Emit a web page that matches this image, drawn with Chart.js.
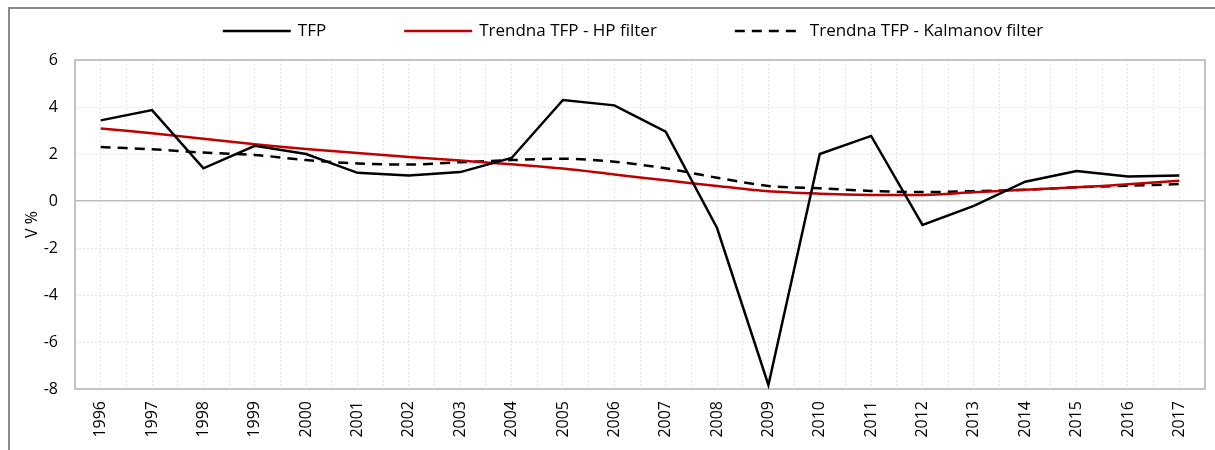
<!DOCTYPE html>
<html>
<head>
<meta charset="utf-8">
<script src="https://cdn.jsdelivr.net/npm/chart.js@4.4.0/dist/chart.umd.min.js"></script>
<style>
    html, body { margin: 0; padding: 0; background: #fff; overflow: hidden; }
    #frame { position: absolute; left: 8px; top: 7px; width: 1400px; height: 600px; border: 2px solid #8a8a8a; }
    #wrap { position: absolute; left: 0; top: 0; width: 1215px; height: 450px; }
</style>
</head>
<body>
<div id="frame"></div>
<div id="wrap"><canvas id="tfpChart" width="1215" height="450"></canvas></div>
<script>
// =========================
// DATA
// =========================

const years = ["1996", "1997", "1998", "1999", "2000", "2001", "2002", "2003", "2004", "2005", "2006",
    "2007", "2008", "2009", "2010", "2011", "2012", "2013", "2014", "2015", "2016", "2017"];

const tfp = [3.43, 3.87, 1.39, 2.35, 2.0, 1.2, 1.09, 1.23, 1.83, 4.3, 4.07,
    2.95, -1.15, -7.83, 2.0, 2.77, -1.02, -0.21, 0.82, 1.28, 1.04, 1.08];

const hpTrend = [3.09, 2.88, 2.65, 2.41, 2.21, 2.04, 1.87, 1.72, 1.56, 1.38, 1.13,
    0.88, 0.64, 0.41, 0.31, 0.26, 0.26, 0.37, 0.48, 0.58, 0.71, 0.86];

const kalmanTrend = [2.3, 2.2, 2.06, 1.96, 1.74, 1.6, 1.55, 1.65, 1.74, 1.8, 1.67,
    1.39, 0.99, 0.64, 0.54, 0.43, 0.38, 0.42, 0.48, 0.58, 0.65, 0.72];

const seriesNames = ["TFP", "Trendna TFP - HP filter", "Trendna TFP - Kalmanov filter"];

const yTicks = { min: -8, max: 6, step: 2 };

// =========================
// STYLE
// =========================

const FONT = "'Open Sans', sans-serif";
const GRID = "#e4e4e4";

// plot frame (Excel style box round the plot area)
const plotFrame = {
    id: "plotFrame",
    beforeDatasetsDraw(chart) {
        const { ctx, chartArea: a } = chart;
        ctx.save();
        ctx.strokeStyle = "#c4c4c4";
        ctx.lineWidth = 2;
        ctx.strokeRect(a.left, a.top, a.right - a.left, a.bottom - a.top);
        ctx.restore();
    }
};

// legend drawn on top, line samples like Excel
const lineLegend = {
    id: "lineLegend",
    afterDraw(chart) {
        const { ctx, chartArea: a } = chart;
        const sample = 68;
        const gap = 7;
        const spacing = 78;
        const y = 31;

        ctx.save();
        ctx.font = "17px " + FONT;
        ctx.textBaseline = "middle";

        const widths = chart.data.datasets.map(ds => sample + gap + ctx.measureText(ds.label).width);
        const total = widths.reduce((s, w) => s + w, 0) + spacing * (widths.length - 1);
        let x = (a.left + a.right) / 2 - total / 2 - 7;

        chart.data.datasets.forEach((ds, i) => {
            ctx.strokeStyle = ds.borderColor;
            ctx.lineWidth = ds.borderWidth;
            ctx.setLineDash(ds.borderDash || []);
            ctx.beginPath();
            ctx.moveTo(x, y);
            ctx.lineTo(x + sample, y);
            ctx.stroke();
            ctx.setLineDash([]);
            ctx.fillStyle = "#000";
            ctx.fillText(ds.label, x + sample + gap, y);
            x += widths[i] + spacing;
        });
        ctx.restore();
    }
};

// =========================
// CHART
// =========================

const tfpChart = new Chart(
    document.getElementById("tfpChart"),
    {
        type: "line",
        data: {
            labels: years,
            datasets: [
                {
                    label: seriesNames[0],
                    data: tfp,
                    borderColor: "#000000",
                    borderWidth: 2.5,
                    pointRadius: 0,
                    tension: 0
                },
                {
                    label: seriesNames[1],
                    data: hpTrend,
                    borderColor: "#c00000",
                    borderWidth: 2.5,
                    pointRadius: 0,
                    tension: 0.3
                },
                {
                    label: seriesNames[2],
                    data: kalmanTrend,
                    borderColor: "#000000",
                    borderWidth: 2.5,
                    borderDash: [10, 7],
                    pointRadius: 0,
                    tension: 0.3
                }
            ]
        },
        options: {
            responsive: false,
            animation: false,
            layout: { padding: { top: 60, right: 10, left: 0, bottom: 0 } },
            plugins: {
                legend: { display: false },
                tooltip: { enabled: false }
            },
            scales: {
                x: {
                    type: "category",
                    position: "bottom",
                    offset: true,
                    grid: { offset: false, color: GRID, lineWidth: 1, drawTicks: false },
                    border: { display: false, dash: [2, 2] },
                    ticks: {
                        minRotation: 90,
                        maxRotation: 90,
                        autoSkip: false,
                        padding: 12,
                        color: "#000",
                        font: { family: FONT, size: 16 }
                    },
                    afterFit: s => { s.height = 61; }
                },
                x2: {
                    type: "category",
                    position: "top",
                    offset: true,
                    grid: { offset: true, color: GRID, lineWidth: 1, drawTicks: false },
                    border: { display: false, dash: [2, 2] },
                    ticks: { display: false },
                    afterFit: s => { s.height = 0; }
                },
                y: {
                    position: "left",
                    min: yTicks.min,
                    max: yTicks.max,
                    ticks: {
                        stepSize: yTicks.step,
                        padding: 17,
                        color: "#000",
                        font: { family: FONT, size: 16 }
                    },
                    grid: {
                        color: c => (c.tick && c.tick.value === 0) ? "rgba(0,0,0,0)" : GRID,
                        drawTicks: false
                    },
                    border: { display: false, dash: [2, 2] },
                    title: {
                        display: true,
                        text: "V %",
                        color: "#000",
                        font: { family: FONT, size: 16 },
                        padding: { top: 23, bottom: 0 }
                    },
                    afterFit: s => { s.width = 75; }
                },
                y0: {
                    position: "left",
                    min: yTicks.min,
                    max: yTicks.max,
                    ticks: { display: false, stepSize: yTicks.step },
                    grid: {
                        color: c => (c.tick && c.tick.value === 0) ? "#bdbdbd" : "rgba(0,0,0,0)",
                        lineWidth: 1.5,
                        drawTicks: false
                    },
                    border: { display: false },
                    afterFit: s => { s.width = 0; }
                }
            }
        },
        plugins: [plotFrame, lineLegend]
    }
);
</script>
</body>
</html>
